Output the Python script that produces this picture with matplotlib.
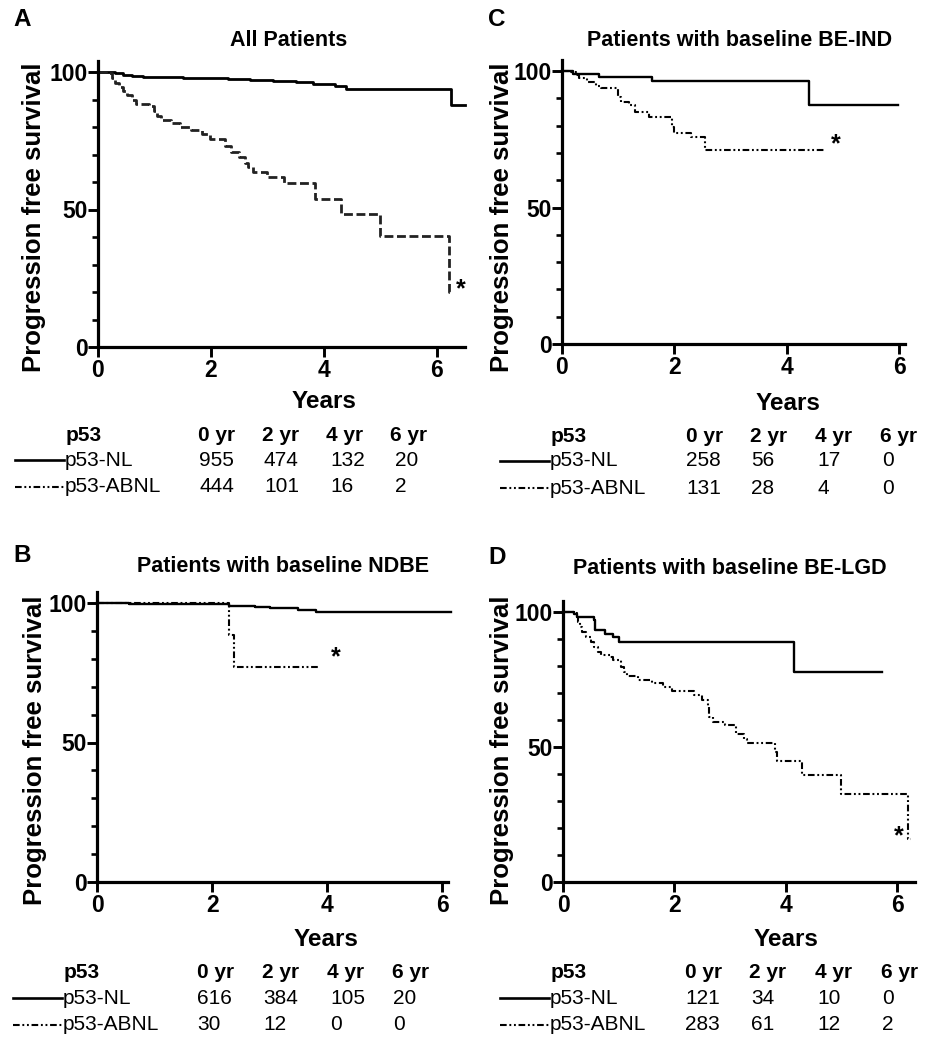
import numpy as np
import matplotlib.pyplot as plt
from matplotlib.lines import Line2D

plt.rcParams['font.family'] = ['Liberation Sans', 'DejaVu Sans']

W, H = 931, 1050

# ---- survival curves (time in years, % progression free) ----
# Panel A: all patients
a_nl_t = [0, 0.3, 0.45, 0.6, 0.8, 1.5, 2.1, 2.3, 2.7, 3.1, 3.5, 3.8, 4.2, 4.4, 6.25]
a_nl_s = [100, 99.5, 99.0, 98.6, 98.3, 98.0, 97.7, 97.4, 97.1, 96.7, 96.4, 95.8, 95.0, 94.0, 88.0]
a_nl_end = 6.5
a_ab_t = [0, 0.15, 0.25, 0.3, 0.38, 0.45, 0.52, 0.6, 0.68, 0.9, 1.0, 1.05, 1.12, 1.3, 1.45,
          1.65, 1.85, 1.98, 2.25, 2.35, 2.5, 2.6, 2.65, 2.75, 3.0, 3.3, 3.85, 4.3, 5.0, 6.22]
a_ab_s = [100, 99.5, 98, 96, 94.5, 93, 91.5, 90, 88.5, 87.5, 86, 84, 82.5, 81.5, 80,
          79, 77.5, 75.5, 73, 71, 69, 67, 65.5, 63.5, 62, 59.5, 54, 48.5, 40.5, 20]
a_ab_end = 6.27

# Panel C: baseline BE-IND
c_nl_t = [0, 0.2, 0.65, 1.6, 4.4]
c_nl_s = [100, 98.8, 97.8, 96.3, 87.6]
c_nl_end = 5.97
c_ab_t = [0, 0.15, 0.25, 0.3, 0.45, 0.6, 0.7, 1.0, 1.05, 1.2, 1.3, 1.55, 1.95, 2.0, 2.3, 2.55]
c_ab_s = [100, 99.5, 98.5, 97.3, 96, 94.5, 93.7, 90.6, 88.8, 87.6, 85.1, 83.3, 79.6, 77.4, 76, 71.1]
c_ab_end = 4.7

# Panel B: baseline NDBE
b_nl_t = [0, 0.55, 2.3, 2.75, 3.0, 3.5, 3.8]
b_nl_s = [100, 99.6, 99.0, 98.6, 98.1, 97.4, 96.8]
b_nl_end = 6.15
b_ab_t = [0, 2.3, 2.38]
b_ab_s = [100, 88.6, 77.2]
b_ab_end = 3.85

# Panel D: baseline BE-LGD
d_nl_t = [0, 0.2, 0.25, 0.55, 0.58, 0.75, 0.9, 1.0, 4.15]
d_nl_s = [100, 99.4, 98.1, 96.9, 93.2, 92.0, 90.7, 88.9, 77.8]
d_nl_end = 5.72
d_ab_t = [0, 0.2, 0.25, 0.27, 0.3, 0.35, 0.42, 0.5, 0.55, 0.62, 0.68, 0.85, 0.9, 1.05, 1.1, 1.15,
          1.35, 1.6, 1.8, 1.95, 2.35, 2.5, 2.6, 2.62, 2.7, 2.9, 3.1, 3.25, 3.3, 3.8, 3.85, 4.3, 5.0, 6.2]
d_ab_s = [100, 99.5, 98, 96.3, 94.4, 92.6, 90.7, 88.9, 87, 85.2, 84, 83.3, 82.1, 79.6, 77.8, 76.2,
          74.9, 73.7, 72.2, 70.6, 69.1, 67.3, 64.8, 61.1, 59.3, 58, 54.9, 53.1, 51.5, 48.1, 44.8, 39.5, 32.7, 16]
d_ab_end = 6.25

# ---- numbers at risk ----
risk_cols = ['0 yr', '2 yr', '4 yr', '6 yr']
a_risk_nl = [955, 474, 132, 20]
a_risk_ab = [444, 101, 16, 2]
c_risk_nl = [258, 56, 17, 0]
c_risk_ab = [131, 28, 4, 0]
b_risk_nl = [616, 384, 105, 20]
b_risk_ab = [30, 12, 0, 0]
d_risk_nl = [121, 34, 10, 0]
d_risk_ab = [283, 61, 12, 2]

DASHDOT2 = (0, (3.2, 1.3, 0.9, 1.3, 0.9, 1.3))

fig = plt.figure(figsize=(W / 100, H / 100), dpi=100)


def fx(x):
    return x / W


def fy(y):
    return 1 - y / H


def km_axes(l, r, y0, per, xmax):
    top = y0 - 104 * per
    ax = fig.add_axes([fx(l), fy(y0), (r - l) / W, (y0 - top) / H])
    ax.set_xlim(0, xmax)
    ax.set_ylim(0, 104)
    for s in ['top', 'right']:
        ax.spines[s].set_visible(False)
    for s in ['left', 'bottom']:
        ax.spines[s].set_linewidth(2.3)
    ax.set_xticks([0, 2, 4, 6])
    ax.set_yticks([0, 50, 100])
    ax.set_yticks(np.arange(10, 100, 10), minor=True)
    ax.tick_params(axis='both', which='major', length=7, width=2.1, labelsize=16.5, pad=0.5)
    ax.tick_params(axis='y', which='minor', length=4, width=1.9)
    ax.tick_params(axis='x', pad=1.5)
    for lab in ax.get_xticklabels() + ax.get_yticklabels():
        lab.set_fontweight('bold')
    ax.patch.set_alpha(0)
    return ax


def curve(ax, t, s, end, **kw):
    ax.step(list(t) + [end], list(s) + [s[-1]], where='post', clip_on=False, **kw)


def txt(x, y, s, **kw):
    fig.text(fx(x), fy(y), s, va='center', **kw)


def risk_table(x_line, y_years, x_years, cols_x, nums_x, nl, ab):
    txt(x_years, y_years, 'Years', ha='center', fontsize=17.5, fontweight='bold')
    yh, y1, y2 = y_years + 33, y_years + 58, y_years + 85
    txt(x_line + 51, yh, 'p53', fontsize=15, fontweight='bold')
    for cx, c in zip(cols_x, risk_cols):
        txt(cx, yh, c, fontsize=15, fontweight='bold')
    fig.add_artist(Line2D([fx(x_line), fx(x_line + 49)], [fy(y1), fy(y1)], color='black', lw=1.9))
    fig.add_artist(Line2D([fx(x_line), fx(x_line + 49)], [fy(y2), fy(y2)], color='black', lw=1.5,
                          linestyle=DASHDOT2))
    txt(x_line + 50, y1, 'p53-NL', fontsize=15)
    txt(x_line + 50, y2, 'p53-ABNL', fontsize=15)
    for nx, v1, v2 in zip(nums_x, nl, ab):
        txt(nx, y1, str(v1), fontsize=15)
        txt(nx, y2, str(v2), fontsize=15)


def ylab(x, y):
    txt(x, y, 'Progression free survival', ha='center', rotation=90, fontsize=18.5, fontweight='bold')


# ---- Panel A ----
axA = km_axes(98, 465, 347, 2.75, 6.5)
curve(axA, a_nl_t, a_nl_s, a_nl_end, color='black', lw=2.0)
curve(axA, a_ab_t, a_ab_s, a_ab_end, color='#222222', lw=2.0, linestyle=(0, (3.2, 1.3)))
axA.text(6.42, 21, '*', fontsize=18, fontweight='bold', ha='center', va='center')
txt(22, 20, 'A', fontsize=17.5, fontweight='bold', ha='center')
txt(289, 40, 'All Patients', ha='center', fontsize=15.5, fontweight='bold')
ylab(34, 217)
risk_table(15, 402, 324, [198, 262, 326, 390], [199, 264, 330, 395], a_risk_nl, a_risk_ab)

# ---- Panel C ----
axC = km_axes(562, 905, 344, 2.73, 6.1)
curve(axC, c_nl_t, c_nl_s, c_nl_end, color='black', lw=1.7)
curve(axC, c_ab_t, c_ab_s, c_ab_end, color='black', lw=1.5, linestyle=DASHDOT2)
axC.text(4.87, 73, '*', fontsize=18, fontweight='bold', ha='center', va='center')
txt(497, 20, 'C', fontsize=17.5, fontweight='bold', ha='center')
txt(740, 40, 'Patients with baseline BE-IND', ha='center', fontsize=15.5, fontweight='bold')
ylab(502, 217)
risk_table(500, 403, 788, [686, 750, 815, 880], [686, 751, 817, 882], c_risk_nl, c_risk_ab)

# ---- Panel B ----
axB = km_axes(97, 448, 882, 2.79, 6.1)
curve(axB, b_nl_t, b_nl_s, b_nl_end, color='black', lw=1.7)
curve(axB, b_ab_t, b_ab_s, b_ab_end, color='black', lw=1.5, linestyle=DASHDOT2)
axB.text(4.15, 80.5, '*', fontsize=18, fontweight='bold', ha='center', va='center')
txt(22, 556, 'B', fontsize=17.5, fontweight='bold', ha='center')
txt(283, 567, 'Patients with baseline NDBE', ha='center', fontsize=15.5, fontweight='bold')
ylab(35, 750)
risk_table(13, 940, 326, [197, 262, 327, 392], [197, 263, 330, 393], b_risk_nl, b_risk_ab)

# ---- Panel D ----
axD = km_axes(563, 915, 882, 2.7, 6.32)
curve(axD, d_nl_t, d_nl_s, d_nl_end, color='black', lw=1.7)
curve(axD, d_ab_t, d_ab_s, d_ab_end, color='black', lw=1.5, linestyle=DASHDOT2)
axD.text(6.02, 17, '*', fontsize=18, fontweight='bold', ha='center', va='center')
txt(497, 557, 'D', fontsize=17.5, fontweight='bold', ha='center')
txt(730, 568, 'Patients with baseline BE-LGD', ha='center', fontsize=15.5, fontweight='bold')
ylab(502, 750)
risk_table(500, 940, 786, [685, 749, 815, 881], [685, 751, 817, 882], d_risk_nl, d_risk_ab)

fig.savefig('out.png', dpi=100)
